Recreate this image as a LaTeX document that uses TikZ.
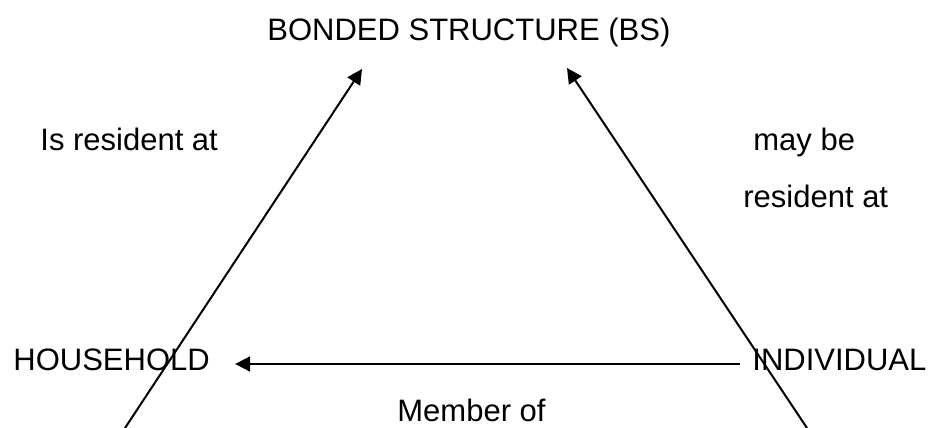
\documentclass[tikz,border=0pt]{standalone}
\usepackage{fontspec}
\setmainfont{Liberation Sans}
\usetikzlibrary{arrows.meta,positioning}

\begin{document}
\begin{tikzpicture}[
    x=0.5pt, y=-0.5pt,
    every node/.style={inner sep=0pt, font=\fontsize{15.5}{18}\selectfont},
    entity/.style={anchor=base west},
    link/.style={draw, line width=1pt, -{Triangle[length=7.5pt, width=7.5pt]}}
]
    \useasboundingbox (0,0) rectangle (932,428);
    % entities
    \node[entity] (bs) at (267,40) {BONDED STRUCTURE (BS)};
    \node[entity] (household) at (13,370) {HOUSEHOLD};
    \node[entity] (individual) at (752,370) {INDIVIDUAL};
    % relation labels
    \node[entity] (isres) at (40,150) {Is resident at};
    \node[entity] (maybe) at (753,150) {may be};
    \node[entity] (mayres) at (743,207) {resident at};
    \node[entity] (member) at (397,421) {Member of};
    % line ends
    \coordinate (hhfoot) at (125,428);
    \coordinate (indfoot) at (807,428);
    \coordinate (hhtip) at (362,69);
    \coordinate (indtip) at (567,68);
    \draw[link] (hhfoot) -- (hhtip);
    \draw[link] (indfoot) -- (indtip);
    \draw[link] ([shift={(-6pt,3pt)}]individual.base west) -- ([shift={(12.5pt,3pt)}]household.base east);
\end{tikzpicture}
\end{document}
